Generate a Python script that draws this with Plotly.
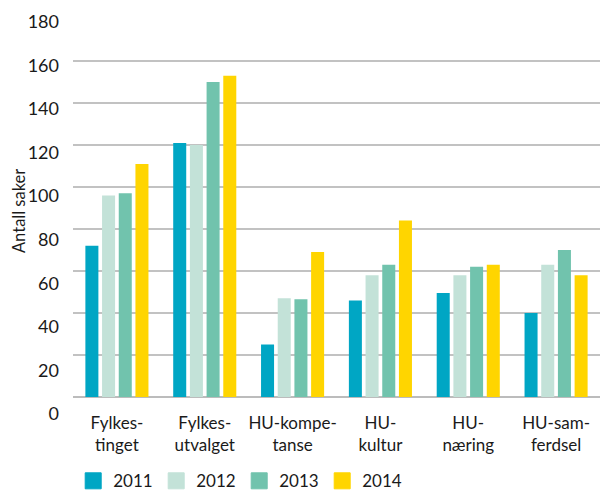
import plotly.graph_objects as go

categories = ["Fylkes-<br>tinget", "Fylkes-<br>utvalget", "HU-kompe-<br>tanse",
              "HU-<br>kultur", "HU-<br>næring", "HU-sam-<br>ferdsel"]
years = ["2011", "2012", "2013", "2014"]
v2011 = [72, 121, 25, 46, 49.5, 40]
v2012 = [96, 120, 47, 58, 58, 63]
v2013 = [97, 150, 46.5, 63, 62, 70]
v2014 = [111, 153, 69, 84, 63, 58]
series = [v2011, v2012, v2013, v2014]
colors = ["#00A6C4", "#C3E2D8", "#71C3AD", "#FFD500"]
ytick_vals = [0, 20, 40, 60, 80, 100, 120, 140, 160, 180]
y_title = "Antall saker"

FONT = "Lato"
TXT = "#1a1a1a"

fig = go.Figure()
for yr, vals, col in zip(years, series, colors):
    fig.add_trace(go.Bar(x=categories, y=vals, name=yr, marker_color=col,
                         marker_line_width=0, showlegend=False, legendgroup=yr))
# legend entries (larger square swatches); also carry the tick-label axis
for yr, col in zip(years, colors):
    fig.add_trace(go.Scatter(x=[None], y=[None], mode="markers", name=yr,
                             legendgroup=yr, yaxis="y2",
                             marker=dict(symbol="square", size=16, color=col,
                                         line=dict(width=1, color=col))))

fig.update_layout(
    width=600, height=490,
    margin=dict(l=73, r=0, t=18, b=74, autoexpand=False),
    paper_bgcolor="white", plot_bgcolor="white",
    font=dict(family=FONT, size=17, color=TXT),
    barmode="group", bargap=0.24, bargroupgap=0.22,
    xaxis=dict(type="category", showgrid=False, showline=False, ticks="",
               anchor="free", position=0.0477, automargin=False,
               tickfont=dict(size=17, color=TXT), ticklabelstandoff=14),
    yaxis=dict(range=[-9.048, 180.476], tickvals=ytick_vals,
               showticklabels=False, automargin=False,
               showgrid=True, gridcolor="#c2c2c2", gridwidth=2,
               zeroline=True, zerolinecolor="#bcbcbc", zerolinewidth=2,
               showline=False, ticks=""),
    yaxis2=dict(overlaying="y", side="left",
                range=[-0.918, 181.70], tickvals=ytick_vals, showgrid=False,
                zeroline=False, showline=False, ticks="", automargin=False,
                ticklabelstandoff=13, tickfont=dict(size=18, color=TXT)),
    legend=dict(orientation="h", xref="container", yref="paper",
                x=0.122, xanchor="left", y=-0.164, yanchor="middle",
                entrywidth=38, entrywidthmode="pixels", itemwidth=30,
                font=dict(size=17, color=TXT), bgcolor="rgba(0,0,0,0)"),
    annotations=[dict(text=y_title, textangle=-90, showarrow=False,
                      xref="paper", yref="paper", x=-0.1025, y=0.515,
                      xanchor="center", yanchor="middle",
                      font=dict(size=16.5, color=TXT))],
)
fig.write_html("out.html", config={"displayModeBar": False},
               post_script="document.body.style.margin='0';")
